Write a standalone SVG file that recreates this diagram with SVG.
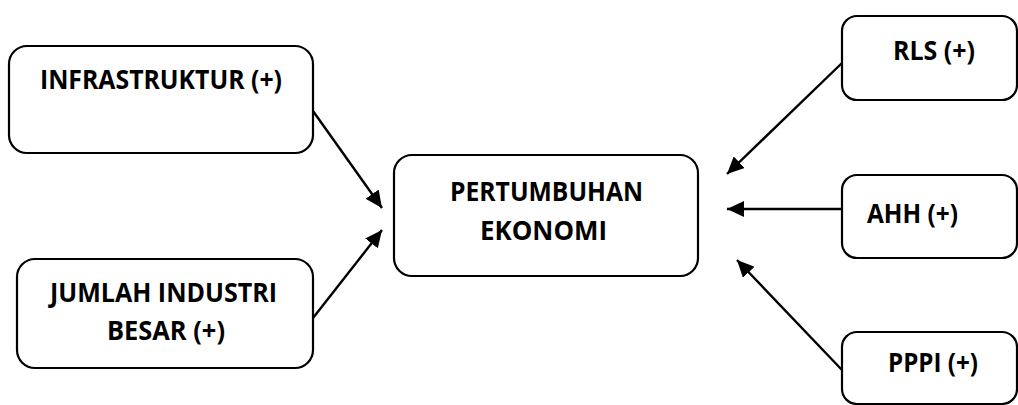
<svg xmlns="http://www.w3.org/2000/svg" width="1018" height="405" viewBox="0 0 1018 405">
<style>
.box{fill:#fff;stroke:#000;stroke-width:2.2}
.t{font-family:"Open Sans","Liberation Sans",sans-serif;font-weight:bold;font-size:27px;fill:#000}
.c{fill:none;stroke:#000;stroke-width:2.4}
</style>
<defs>
<marker id="ah" markerUnits="userSpaceOnUse" markerWidth="18" markerHeight="16" refX="17" refY="8" orient="auto">
<path d="M0,0 L17,8 L0,16 Z" fill="#000"/>
</marker>
</defs>
<rect width="1018" height="405" fill="#fff"/>
<g id="connectors">
<line class="c" x1="313" y1="111" x2="382" y2="208" marker-end="url(#ah)"/>
<line class="c" x1="313" y1="318" x2="382" y2="230" marker-end="url(#ah)"/>
<line class="c" x1="842" y1="63" x2="727" y2="174" marker-end="url(#ah)"/>
<line class="c" x1="842" y1="209" x2="727" y2="209" marker-end="url(#ah)"/>
<line class="c" x1="842" y1="370" x2="737" y2="260" marker-end="url(#ah)"/>
</g>
<g id="infrastruktur">
<rect class="box" x="9" y="46" width="304" height="107" rx="18"/>
<text class="t" x="161" y="89" text-anchor="middle" textLength="242" lengthAdjust="spacingAndGlyphs">INFRASTRUKTUR (+)</text>
</g>
<g id="jumlah-industri">
<rect class="box" x="17" y="259" width="296" height="109" rx="18"/>
<text class="t" x="163.5" y="302" text-anchor="middle" textLength="227" lengthAdjust="spacingAndGlyphs">JUMLAH INDUSTRI</text>
<text class="t" x="166" y="340" text-anchor="middle" textLength="118" lengthAdjust="spacingAndGlyphs">BESAR (+)</text>
</g>
<g id="pertumbuhan">
<rect class="box" x="394" y="155" width="304" height="121" rx="18"/>
<text class="t" x="546.5" y="201" text-anchor="middle" textLength="193" lengthAdjust="spacingAndGlyphs">PERTUMBUHAN</text>
<text class="t" x="543.5" y="240" text-anchor="middle" textLength="127" lengthAdjust="spacingAndGlyphs">EKONOMI</text>
</g>
<g id="rls">
<rect class="box" x="842" y="16" width="175" height="84" rx="15"/>
<text class="t" x="893" y="60" textLength="82" lengthAdjust="spacingAndGlyphs">RLS (+)</text>
</g>
<g id="ahh">
<rect class="box" x="842" y="175" width="175" height="83" rx="15"/>
<text class="t" x="867" y="223" textLength="91" lengthAdjust="spacingAndGlyphs">AHH (+)</text>
</g>
<g id="pppi">
<rect class="box" x="842" y="332" width="175" height="72" rx="15"/>
<text class="t" x="888" y="372" textLength="90" lengthAdjust="spacingAndGlyphs">PPPI (+)</text>
</g>
</svg>
